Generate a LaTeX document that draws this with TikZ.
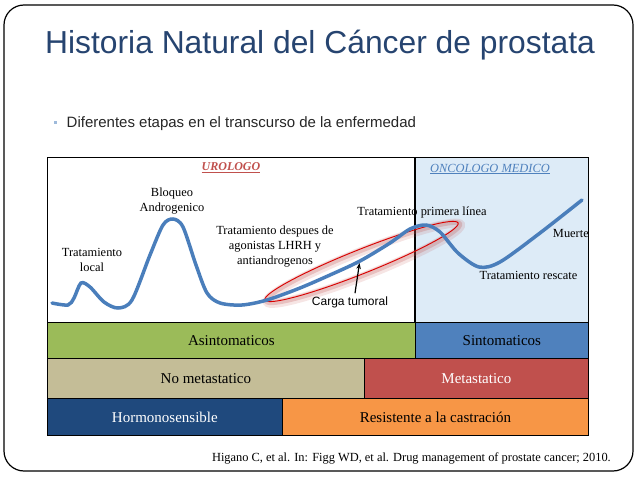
\documentclass[tikz,border=0pt]{standalone}
\usepackage{fontspec}
\setmainfont{Liberation Serif}
\setsansfont{Liberation Sans}
\usepackage{tikz}
\usetikzlibrary{arrows.meta}

\definecolor{titleblue}{RGB}{38,68,112}
\definecolor{curveblue}{RGB}{74,126,187}
\definecolor{oncoback}{RGB}{221,235,247}
\definecolor{asinto}{RGB}{155,187,89}
\definecolor{sinto}{RGB}{79,129,189}
\definecolor{nometa}{RGB}{196,189,151}
\definecolor{meta}{RGB}{192,80,77}
\definecolor{hormono}{RGB}{31,73,125}
\definecolor{resist}{RGB}{247,150,70}

\tikzset{
  stagebox/.style={draw=black, line width=0.8pt, anchor=north west, inner sep=0pt,
    font=\fontsize{15}{18}\selectfont},
  curvelabel/.style={align=center, inner sep=0pt, font=\fontsize{12.4}{15}\selectfont},
}

\begin{document}
\begin{tikzpicture}[x=1pt, y=-1pt]
    \useasboundingbox (0,0) rectangle (638,479);

    %% slide frame and title
    \draw[line width=1.2pt, rounded corners=20pt] (4,5) rectangle (633,471);
    \node[anchor=base west, inner sep=0pt, text=titleblue,
      font=\sffamily\fontsize{31.8}{38}\selectfont] (title) at (45,53)
      {Historia Natural del Cáncer de prostata};
    \node[fill=sinto!55, inner sep=0pt, minimum size=3pt] (dot) at (55,122) {};
    \node[anchor=base west, inner sep=0pt, text=black!85,
      font=\sffamily\fontsize{15}{18}\selectfont] (lead) at (66.5,127)
      {Diferentes etapas en el transcurso de la enfermedad};

    %% chart area
    \fill[oncoback] (415,157) rectangle (588,322);
    \draw[line width=0.9pt] (47,157) rectangle (588,322);
    \draw[line width=1.6pt] (415,157) -- (415,322);
    \node[font=\bfseries\itshape\fontsize{12}{14}\selectfont, text=meta] (uro) at (231,168)
      {\underline{UROLOGO}};
    \node[font=\itshape\fontsize{12.4}{14}\selectfont, text=sinto] (onco) at (490,169)
      {\underline{ONCOLOGO MEDICO}};

    %% drawing the red ellipse (glow first)
    \begin{scope}[rotate around={21.75:(361.5,261.5)}]
      \draw[meta, opacity=0.15, line width=9pt] (363,264) ellipse [x radius=104pt, y radius=12pt];
      \draw[meta, opacity=0.25, line width=5pt] (362.5,263) ellipse [x radius=104pt, y radius=12pt];
      \draw[red!85!black, line width=0.9pt] (361.5,261.5) ellipse [x radius=104pt, y radius=12pt];
    \end{scope}

    %% drawing the curve
    \draw[curveblue, line width=3.5pt, line cap=round] plot[smooth, tension=0.5] coordinates {
      (52,303) (68,305) (74,298) (81,283) (90,287) (104,302) (118,308) (132,300)
      (150,255) (163,225) (173,219) (183,227) (196,265) (207,293) (220,303) (242,305)
      (267,300) (300,288) (330,275) (360,261) (390,243) (410,229) (426,225) (440,232)
      (458,253) (479,267) (500,262) (540,233) (582,200)};

    %% labels on the curve
    \node[curvelabel] (local) at (92,259.5) {Tratamiento\\local};
    \node[curvelabel] (bloqueo) at (172,201.5) {Bloqueo\\Androgenico};
    \node[curvelabel] (despues) at (275,247) {Tratamiento despues de\\agonistas LHRH y\\antiandrogenos};
    \node[curvelabel] (primera) at (422,213) {Tratamiento primera línea};
    \node[curvelabel, anchor=east] (muerte) at (589,233) {Muerte};
    \node[curvelabel] (rescate) at (528.5,275) {Tratamiento rescate};

    %% tumour load
    \coordinate (cargatip) at (359.5,263);
    \node[inner sep=0pt, font=\sffamily\fontsize{12}{14}\selectfont] (carga) at (350,302) {Carga tumoral};
    \draw[line width=1.2pt, -{Stealth[length=6pt, width=4.5pt]}] ([xshift=5pt, yshift=3pt]carga.north) -- (cargatip);

    %% stages
    \node[stagebox, fill=asinto, minimum width=368pt, minimum height=36pt] (asin) at (47,322) {Asintomaticos};
    \node[stagebox, fill=sinto, minimum width=173pt, minimum height=36pt] (sint) at (415,322) {Sintomaticos};
    \node[stagebox, fill=nometa, minimum width=317pt, minimum height=40pt] (nomet) at (47,358) {No metastatico};
    \node[stagebox, fill=meta, text=white, minimum width=224pt, minimum height=40pt] (met) at (364,358) {Metastatico};
    \node[stagebox, fill=hormono, text=white, minimum width=235pt, minimum height=37pt] (hormo) at (47,398) {Hormonosensible};
    \node[stagebox, fill=resist, minimum width=306pt, minimum height=37pt] (resis) at (282,398) {Resistente a la castración};

    %% source
    \node[anchor=base east, inner sep=0pt, font=\fontsize{12.4}{14}\selectfont] (cite) at (611,461)
      {Higano C, et al. In: Figg WD, et al. Drug management of prostate cancer; 2010.};
\end{tikzpicture}
\end{document}
